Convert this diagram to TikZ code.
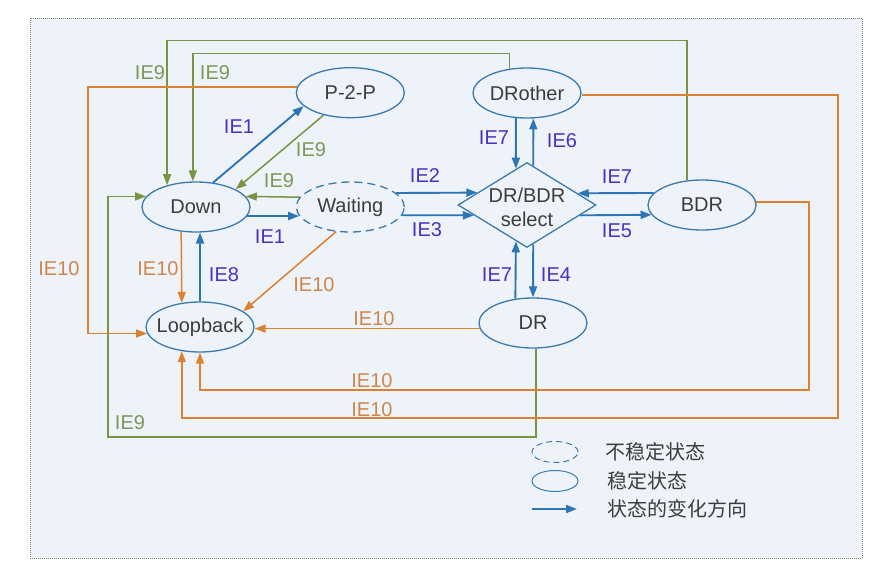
\documentclass[tikz,border=0pt]{standalone}
\usepackage{fontspec}
\setmainfont{Liberation Sans}
\newfontfamily\cjk{Noto Sans CJK SC}
\usepackage{xcolor}
\usetikzlibrary{arrows.meta,positioning,shapes.geometric}

\definecolor{bgblue}{RGB}{238,243,249}
\definecolor{nodeblue}{RGB}{58,122,176}
\definecolor{lineblue}{RGB}{46,117,182}
\definecolor{lblblue}{RGB}{72,50,196}
\definecolor{lineor}{RGB}{220,128,50}
\definecolor{lblor}{RGB}{205,135,75}
\definecolor{linegr}{RGB}{122,148,70}
\definecolor{lblgr}{RGB}{128,150,88}
\definecolor{txtgray}{RGB}{60,60,60}

\newcommand{\stxt}[1]{\makebox[0pt]{#1}}

\begin{document}
\begin{tikzpicture}[x=1pt,y=-1pt,>={Triangle[length=11pt,width=8pt]}]
	  \tikzset{state/.style={draw=nodeblue, line width=1.3pt, ellipse, inner sep=0pt, minimum width=108pt, minimum height=50pt, text=txtgray, font=\fontsize{20}{24}\selectfont},
	  	selbox/.style={draw=nodeblue, line width=1.3pt, diamond, inner sep=0pt, minimum width=138pt, minimum height=85pt},
	  	lbl/.style={inner sep=0pt, font=\fontsize{20}{24}\selectfont},
	  	bline/.style={draw=lineblue, line width=1.9pt},
	  	oline/.style={draw=lineor, line width=1.5pt},
	  	gline/.style={draw=linegr, line width=1.5pt},
	  	legtxt/.style={anchor=west, inner sep=0pt, text=txtgray, font=\cjk\fontsize{20}{24}\selectfont},
	  }
	  \useasboundingbox (0,0) rectangle (881,576);
	  \fill[bgblue] (30,18) rectangle (862,558);
	  \draw[gray, line width=1pt, dash pattern=on 1pt off 1pt] (30,18) rectangle (862,558);

	  %% states
	  \node [state] (down) at (196,207) {\stxt{Down}};
	  \node [state, dashed, dash pattern=on 8pt off 5pt, right=45pt of down] (waiting) {\stxt{Waiting}};
	  \node [state, above=63pt of waiting] (p2p) {\stxt{P-2-P}};
	  \node [state] (loop) at (200,327) {\stxt{Loopback}};
	  \node [state] (drother) at (527,93) {\stxt{DRother}};
	  \node [selbox] (sel) at (527,205) {};
	  \node [align=center, inner sep=0pt, text=txtgray, font=\fontsize{20}{24}\selectfont] (seltext) at (527,207) {DR/BDR\\select};
	  \node [state] (bdr) at (702,205) {\stxt{BDR}};
	  \node [state] (dr) at (533,323) {\stxt{DR}};

	  %% blue paths
	  \draw[bline,->] (down.55) -- (p2p.196);
	  \draw[bline,->] (down.350) -- (waiting.190);
	  \draw[bline,->] (waiting.17) -- (sel.166);
	  \draw[bline,->] (waiting.351) -- (sel.191);
	  \draw[bline,->] (drother.246) -- (sel.107);
	  \draw[bline,->] (sel.81) -- (drother.284);
	  \draw[bline,->] (bdr.166) -- (sel.13);
	  \draw[bline,->] (sel.349) -- (bdr.191);
	  \draw[bline,->] (dr.126) -- (sel.253);
	  \draw[bline,->] (sel.279) -- (dr.north);
	  \draw[bline,->] (loop.north) -- (down.279);

	  %% green paths
	  \draw[gline,->] (p2p.220) -- (down.24);
	  \draw[gline,->] (waiting.169) -- (down.12);
	  \draw[gline,->] (drother.126) -- ++(0,-15) -| (down.97);
	  \draw[gline,->] (bdr.121) -- ++(0,-140) -| (down.143);
	  \draw[gline,->] (dr.277) |- (108,437) |- (down.168);

	  %% orange paths
	  \draw[oline,->] (down.239) -- (loop.127);
	  \draw[oline,->] (waiting.240) -- (loop.20);
	  \draw[oline,->] (dr.186) -- (loop.east |- dr.186);
	  \draw[oline,->] (p2p.174) -- ++(-209,0) |- (loop.187);
	  \draw[oline,->] (drother.358) -| (838,418) -| (loop.233);
	  \draw[oline,->] (bdr.3) -| (809,390) -| (loop.south);

	  %% labels
	  \node[lbl, text=lblblue] (ie1a) at (239,127) {IE1};
	  \node[lbl, text=lblblue] (ie1b) at (270,237) {IE1};
	  \node[lbl, text=lblblue] (ie2) at (425,176) {IE2};
	  \node[lbl, text=lblblue] (ie3) at (427,230) {IE3};
	  \node[lbl, text=lblblue] (ie7a) at (494,138) {IE7};
	  \node[lbl, text=lblblue] (ie6) at (562,141) {IE6};
	  \node[lbl, text=lblblue] (ie7b) at (617,177) {IE7};
	  \node[lbl, text=lblblue] (ie5) at (617,231) {IE5};
	  \node[lbl, text=lblblue] (ie7c) at (497,275) {IE7};
	  \node[lbl, text=lblblue] (ie4) at (556,275) {IE4};
	  \node[lbl, text=lblblue] (ie8) at (224,275) {IE8};
	  \node[lbl, text=lblgr] (ie9a) at (150,73) {IE9};
	  \node[lbl, text=lblgr] (ie9b) at (215,73) {IE9};
	  \node[lbl, text=lblgr] (ie9c) at (311,150) {IE9};
	  \node[lbl, text=lblgr] (ie9d) at (279,181) {IE9};
	  \node[lbl, text=lblgr] (ie9e) at (130,423) {IE9};
	  \node[lbl, text=lblor] (ie10a) at (59,269) {IE10};
	  \node[lbl, text=lblor] (ie10b) at (158,269) {IE10};
	  \node[lbl, text=lblor] (ie10c) at (314,285) {IE10};
	  \node[lbl, text=lblor] (ie10d) at (374,319) {IE10};
	  \node[lbl, text=lblor] (ie10e) at (372,381) {IE10};
	  \node[lbl, text=lblor] (ie10f) at (372,410) {IE10};

	  %% legend
	  \node [state, dashed, dash pattern=on 6pt off 4pt, line width=1pt, minimum width=46pt, minimum height=21pt] (lgunst) at (555,452) {};
	  \node [state, line width=1pt, minimum width=46pt, minimum height=21pt] (lgst) at (555,481) {};
	  \coordinate (lga) at (532,509);
	  \coordinate (lgb) at (577,509);
	  \draw[bline,->] (lga) -- (lgb);
	  \node [legtxt] (lgunsttxt) at (605,452) {不稳定状态};
	  \node [legtxt] (lgsttxt) at (607,481) {稳定状态};
	  \node [legtxt] (lgdirtxt) at (607,509) {状态的变化方向};
	  \end{tikzpicture}
\end{document}
